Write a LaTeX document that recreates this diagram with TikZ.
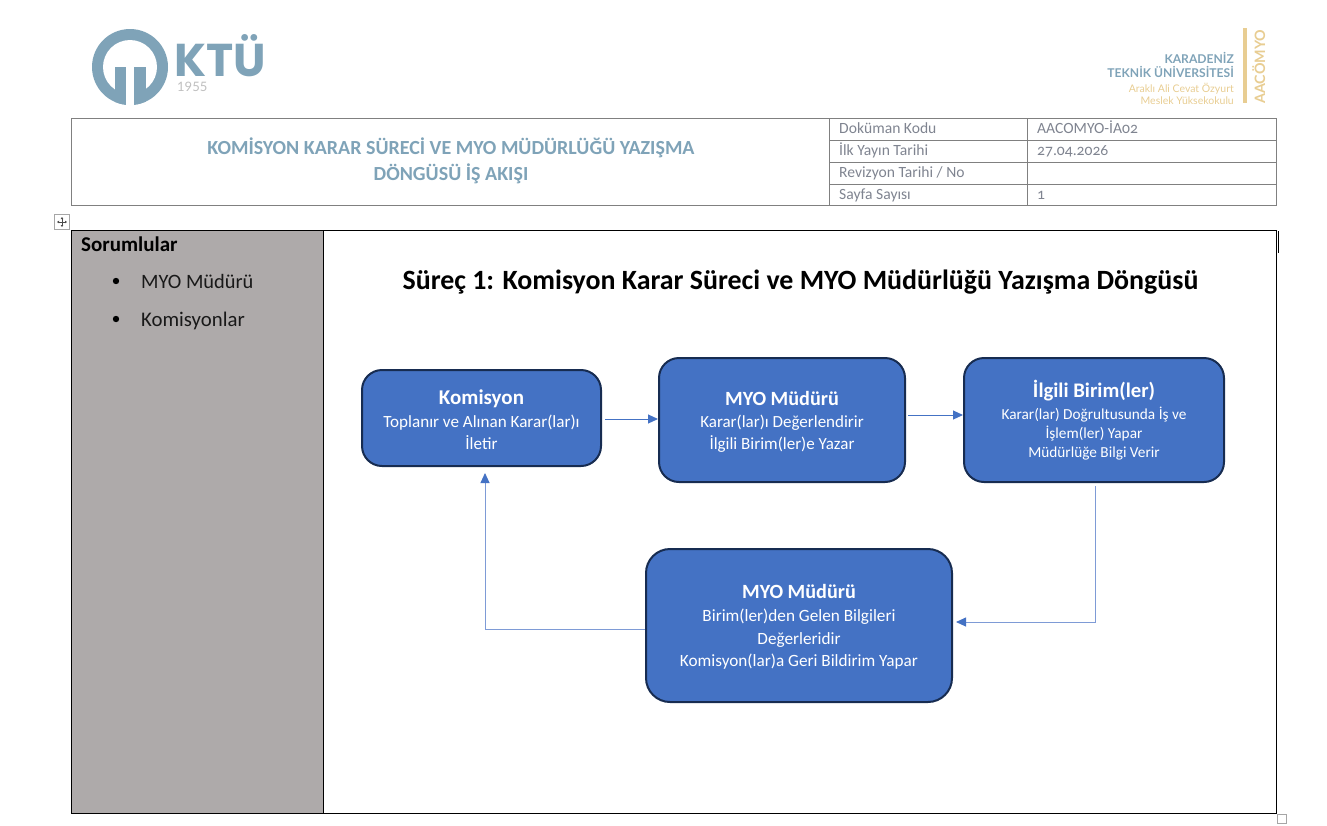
\documentclass[tikz,border=0pt]{standalone}
\usepackage{fontspec}
\setmainfont{Carlito}
\newfontfamily\logofont{Lato}
\newfontfamily\ktufont{Poppins}
\usetikzlibrary{arrows.meta,calc}
\definecolor{ktu}{HTML}{7FA3B8}
\definecolor{gold}{HTML}{E8CD92}
\definecolor{grayline}{HTML}{808080}
\definecolor{celltext}{HTML}{7F8490}
\definecolor{side}{HTML}{AEAAAA}
\definecolor{boxfill}{HTML}{4472C4}
\definecolor{boxline}{HTML}{172C51}
\definecolor{connlight}{HTML}{7E9BD6}
\newcommand{\fsz}[2]{\fontsize{#1}{#2}\selectfont}
\tikzset{
  x=1pt,y=-1pt,
  flowbox/.style={draw=boxline,line width=2pt,fill=boxfill,rounded corners=20pt,text=white,align=center,inner sep=0pt,anchor=center},
  conn/.style={draw=boxfill,line width=1pt,-{Triangle[length=10pt,width=9pt]}},
  connl/.style={draw=connlight,line width=.9pt,-{Triangle[length=10pt,width=9pt,color=boxfill]}},
  cell/.style={text=celltext,anchor=base west,inner sep=0pt,font=\fsz{15.6}{18}},
  gridline/.style={draw=grayline,line width=1pt},
  sidetext/.style={anchor=base west,inner sep=0pt,text=black},
  head/.style={text=ktu,anchor=base,inner sep=0pt,font=\bfseries\fsz{20}{22}},
}
\begin{document}
\begin{tikzpicture}
\useasboundingbox (0,0) rectangle (1327,825);
% KTU logo
\fill[ktu] (130,67) circle[radius=38];
\fill[white] (130,67) circle[radius=27];
\begin{scope}
\clip (130,67) circle[radius=38];
\fill[ktu] (115,67) rectangle (126,106);
\fill[ktu] (134,67) rectangle (146,106);
\fill[white] (126,85) rectangle (134,106);
\end{scope}
\node[anchor=base west,inner sep=0pt,text depth=0pt,text=ktu,font=\ktufont\bfseries\fsz{46}{50}] (ktutext) at (174,76) {KTÜ};
\node[anchor=base west,inner sep=0pt,text height=9pt,text=black!25,font=\logofont\fsz{13}{18}] (year) at (177,91) {1955};
% AACOMYO logo
\node[anchor=base east,inner sep=0pt,text=ktu,font=\logofont\bfseries\fsz{12.1}{14}] (l1) at (1234,63) {KARADENİZ};
\node[anchor=base east,inner sep=0pt,text=ktu,font=\logofont\bfseries\fsz{12.1}{14}] (l2) at (1234,77) {TEKNİK ÜNİVERSİTESİ};
\node[anchor=base east,inner sep=0pt,text=gold,font=\logofont\fsz{10.5}{12}] (l3) at (1234,92) {Araklı Ali Cevat Özyurt};
\node[anchor=base east,inner sep=0pt,text=gold,font=\logofont\fsz{10.5}{12}] (l4) at (1234,104) {Meslek Yüksekokulu};
\fill[gold] (1243,28) rectangle (1247,103);
\node[rotate=90,anchor=base west,inner sep=0pt,text=gold,font=\logofont\bfseries\fsz{14.3}{16}] (l5) at (1265,104) {AACÖMYO};
% Header table
\draw[gridline] (71.5,118.5) rectangle (1276.5,205.5);
\draw[gridline] (829.5,118.5) -- (829.5,205.5);
\draw[gridline] (1027.5,118.5) -- (1027.5,205.5);
\draw[gridline] (829.5,140.5) -- (1276.5,140.5);
\draw[gridline] (829.5,162.5) -- (1276.5,162.5);
\draw[gridline] (829.5,184.5) -- (1276.5,184.5);
\node[head] (t1) at (451,154) {KOMİSYON KARAR SÜRECİ VE MYO MÜDÜRLÜĞÜ YAZIŞMA};
\node[head] (t2) at (451,180) {DÖNGÜSÜ İŞ AKIŞI};
\node[cell] (c1) at (839,133) {Doküman Kodu};
\node[cell] (c2) at (839,155) {İlk Yayın Tarihi};
\node[cell] (c3) at (839,177) {Revizyon Tarihi / No};
\node[cell] (c4) at (839,199) {Sayfa Sayısı};
\node[cell] (d1) at (1037,133) {\addfontfeature{Numbers=OldStyle}AACOMYO-İA02};
\node[cell] (d2) at (1037,155) {\addfontfeature{Numbers=OldStyle}27.04.2026};
\node[cell] (d4) at (1037,199) {\addfontfeature{Numbers=OldStyle}1};
% Move handle
\draw[black!35,line width=1pt,fill=white] (54.5,214.5) rectangle (69.5,229.5);
\draw[black!70,line width=.6pt,{Latex[length=2pt,width=3pt]}-{Latex[length=2pt,width=3pt]}] (57,222) -- (67,222);
\draw[black!70,line width=.6pt,{Latex[length=2pt,width=3pt]}-{Latex[length=2pt,width=3pt]}] (62,217) -- (62,227);
% Main table
\fill[side] (71,230.5) rectangle (323.5,813);
\draw[black,line width=1pt] (71.5,230.5) rectangle (1276.5,813);
\draw[black,line width=1pt] (323.5,230.5) -- (323.5,813);
\draw[black,line width=.8pt] (1278.7,231) -- (1278.7,253);
\draw[black!35,line width=1pt] (1277.5,814.5) rectangle (1286.5,823.5);
\node[sidetext,font=\bfseries\fsz{21}{24}] (sor) at (81,251) {Sorumlular};
\fill[black] (116,281) circle[radius=3.2];
\fill[black] (116,319) circle[radius=3.2];
\node[sidetext,font=\fsz{20.4}{24},text=black!90] (s1) at (141,288) {MYO Müdürü};
\node[sidetext,font=\fsz{20.8}{24},text=black!90] (s2) at (141,326) {Komisyonlar};
\node[anchor=base,inner sep=0pt,font=\bfseries\fsz{27.9}{32}] (title) at (800.5,289) {Süreç 1: Komisyon Karar Süreci ve MYO Müdürlüğü Yazışma Döngüsü};
% Flow boxes
\node[flowbox,font=\fsz{17.1}{22},minimum width=239pt,minimum height=96pt] (kom) at (481.5,418) {\rule{0pt}{18pt}{\bfseries\fsz{21}{24}Komisyon}\\[1pt]Toplanır ve Alınan Karar(lar)ı\\İletir};
\node[flowbox,font=\fsz{17}{22},minimum width=246pt,minimum height=124pt] (myo) at (782,420) {\rule{0pt}{18pt}{\bfseries\fsz{20.2}{24}MYO Müdürü}\\[0pt]Karar(lar)ı Değerlendirir\\İlgili Birim(ler)e Yazar};
\node[flowbox,font=\fsz{15.3}{19},minimum width=260pt,minimum height=124pt] (bir) at (1094,420) {{\bfseries\fsz{20.7}{24}İlgili Birim(ler)}\\[3pt]Karar(lar) Doğrultusunda İş ve\\İşlem(ler) Yapar\\Müdürlüğe Bilgi Verir};
\node[flowbox,font=\fsz{17.2}{22.5},rounded corners=24pt,minimum width=306pt,minimum height=153pt] (geri) at (799,625.5) {\rule{0pt}{17pt}{\bfseries\fsz{20.2}{24}MYO Müdürü}\\[0.5pt]Birim(ler)den Gelen Bilgileri\\Değerleridir\\Komisyon(lar)a Geri Bildirim Yapar};
% Connectors
\draw[conn] ([xshift=3pt,yshift=-1pt]kom.east) -- ([yshift=1pt]myo.west);
\draw[conn] ([xshift=2pt,yshift=5pt]myo.east) -- ([yshift=5pt]bir.west);
\draw[connl] ([xshift=1pt,yshift=-3pt]bir.south) |- ([xshift=3pt,yshift=3.5pt]geri.east);
\draw[connl] ([yshift=-3.5pt]geri.west) -| ([xshift=3.5pt,yshift=-6pt]kom.south);
\end{tikzpicture}
\end{document}
